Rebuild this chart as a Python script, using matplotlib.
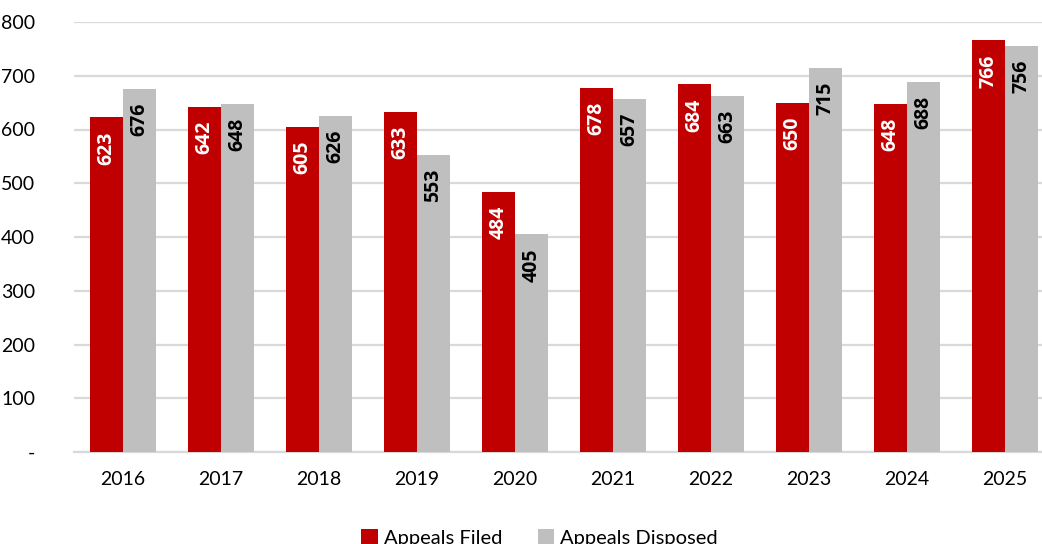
import matplotlib.pyplot as plt
import numpy as np

years = ["2016", "2017", "2018", "2019", "2020", "2021", "2022", "2023", "2024", "2025"]
appeals_filed = [623, 642, 605, 633, 484, 678, 684, 650, 648, 766]
appeals_disposed = [676, 648, 626, 553, 405, 657, 663, 715, 688, 756]
y_ticks = [0, 100, 200, 300, 400, 500, 600, 700, 800]
y_tick_labels = ["-", "100", "200", "300", "400", "500", "600", "700", "800"]

RED = "#C00000"
GRAY = "#BFBFBF"
GRID = "#D9D9D9"
FONT = "Lato"

plt.rcParams["font.family"] = [FONT, "DejaVu Sans"]

fig = plt.figure(figsize=(10.42, 5.44), dpi=100)
ax = fig.add_axes([74 / 1042, 1 - 452 / 544, (1054 - 74) / 1042, (452 - 22) / 544])

x = np.arange(len(years))
w = 0.337
bars_f = ax.bar(x - w / 2, appeals_filed, w, color=RED, label="Appeals Filed", zorder=3)
bars_d = ax.bar(x + w / 2, appeals_disposed, w, color=GRAY, label="Appeals Disposed", zorder=3)

for bars, vals, col in [(bars_f, appeals_filed, "white"), (bars_d, appeals_disposed, "black")]:
    for b, v in zip(bars, vals):
        ax.annotate(str(v), (b.get_x() + b.get_width() / 2, v), xytext=(0, -14),
                    textcoords="offset pixels", rotation=90, ha="center", va="top",
                    fontsize=14, fontweight="bold", family="Open Sans", color=col, zorder=4)

ax.set_xlim(-0.5, 9.5)
ax.set_ylim(0, 800)
ax.set_yticks(y_ticks)
ax.set_yticklabels(y_tick_labels)
ax.set_xticks(x)
ax.set_xticklabels(years)
ax.tick_params(axis="both", length=0, labelsize=14, colors="black")
ax.tick_params(axis="y", pad=28)
ax.tick_params(axis="x", pad=14)
ax.grid(axis="y", color=GRID, linewidth=1.6, zorder=0)
for s in ["top", "right", "left"]:
    ax.spines[s].set_visible(False)
ax.spines["bottom"].set_color(GRID)
ax.spines["bottom"].set_linewidth(1.6)

fig.legend(handles=[bars_f, bars_d], loc="center", bbox_to_anchor=(0.518, 0.011), ncol=2,
           frameon=False, fontsize=14.5, handlelength=0.8, handleheight=0.8,
           handletextpad=0.3, columnspacing=1.8)

fig.savefig("out.png", dpi=100)
